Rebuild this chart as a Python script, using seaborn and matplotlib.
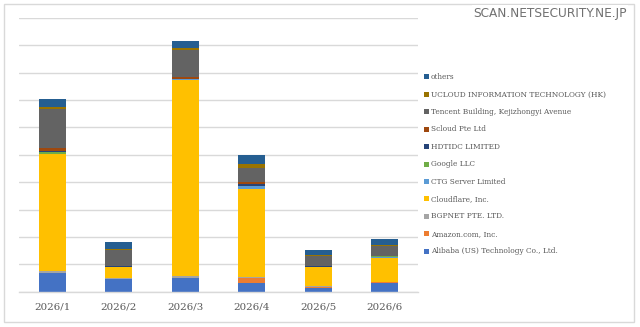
import numpy as np
import pandas as pd
import matplotlib
matplotlib.use("Agg")
import matplotlib.pyplot as plt
import seaborn as sns
from matplotlib.patches import Rectangle
from matplotlib.lines import Line2D

months = ["2026/1", "2026/2", "2026/3", "2026/4", "2026/5", "2026/6"]
series = ["Alibaba (US) Technology Co., Ltd.", "Amazon.com, Inc.", "BGPNET PTE. LTD.",
          "Cloudflare, Inc.", "CTG Server Limited", "Google LLC", "HDTIDC LIMITED",
          "Scloud Pte Ltd", "Tencent Building, Kejizhongyi Avenue",
          "UCLOUD INFORMATION TECHNOLOGY (HK)", "others"]
colors = ["#4472C4", "#ED7D31", "#A5A5A5", "#FFC000", "#5B9BD5", "#70AD47",
          "#264478", "#9E480E", "#636363", "#997300", "#255E91"]

alibaba    = [67, 45, 49, 31, 15, 33]
amazon     = [2, 3, 1, 18, 3, 2]
bgpnet     = [8, 2, 6, 6, 2, 2]
cloudflare = [425, 40, 719, 319, 70, 87]
ctg        = [2, 1, 1, 12, 1, 4]
google     = [8, 1, 1, 1, 1, 1]
hdtidc     = [2, 1, 1, 7, 1, 1]
scloud     = [10, 2, 8, 7, 1, 2]
tencent    = [143, 58, 98, 52, 37, 35]
ucloud     = [7, 3, 6, 12, 3, 4]
others     = [30, 27, 26, 35, 20, 22]

values = [alibaba, amazon, bgpnet, cloudflare, ctg, google, hdtidc, scloud, tencent, ucloud, others]

sns.set_theme(style="white")
plt.rcParams["font.family"] = ["DejaVu Serif"]

fig = plt.figure(figsize=(6.4, 3.27), dpi=100)
fig.patch.set_facecolor("white")
# outer frame
fig.add_artist(Rectangle((4 / 640, 1 - 322 / 327), 630 / 640, 318 / 327,
                         transform=fig.transFigure, fill=False,
                         edgecolor="#D9D9D9", linewidth=1.0))

ax = fig.add_axes([19 / 640, 1 - 291.7 / 327, 399 / 640, (291.7 - 18) / 327])

cum = np.cumsum(np.array(values), axis=0)
for i in range(len(series) - 1, -1, -1):
    df = pd.DataFrame({"month": months, "v": cum[i]})
    sns.barplot(data=df, x="month", y="v", color=colors[i], width=0.4,
                saturation=1, linewidth=0, ax=ax, order=months)

ax.set_ylim(0, 1000)
ax.set_xlim(-0.5, 5.5)
ax.set_yticks(np.arange(0, 1001, 100))
ax.set_yticklabels([])
ax.yaxis.grid(True, color="#D9D9D9", linewidth=1.0)
ax.set_axisbelow(True)
for s in ["top", "right", "left"]:
    ax.spines[s].set_visible(False)
ax.spines["bottom"].set_color("#D9D9D9")
ax.spines["bottom"].set_linewidth(1.0)
ax.set_xlabel("")
ax.set_ylabel("")
ax.tick_params(axis="x", length=0, pad=8, labelsize=7.4, labelcolor="#595959")
ax.tick_params(axis="y", length=0)

handles = [Line2D([0], [0], marker="s", linestyle="none", markersize=3.6,
                  markerfacecolor=c, markeredgewidth=0) for c in colors]
leg = fig.legend(handles[::-1], series[::-1], loc="upper left",
                 bbox_to_anchor=(421 / 640, 1 - 70 / 327), frameon=False,
                 fontsize=5.35, labelspacing=1.27, handlelength=0.6,
                 handletextpad=0.3, borderaxespad=0)
for t in leg.get_texts():
    t.set_color("#595959")

fig.text(627 / 640, 1 - 13 / 327, "SCAN.NETSECURITY.NE.JP", ha="right", va="center",
         fontsize=8.7, color="#707070", family="DejaVu Sans",
         bbox=dict(facecolor="white", edgecolor="none", pad=1))

fig.savefig("out.png", dpi=100, facecolor="white")
